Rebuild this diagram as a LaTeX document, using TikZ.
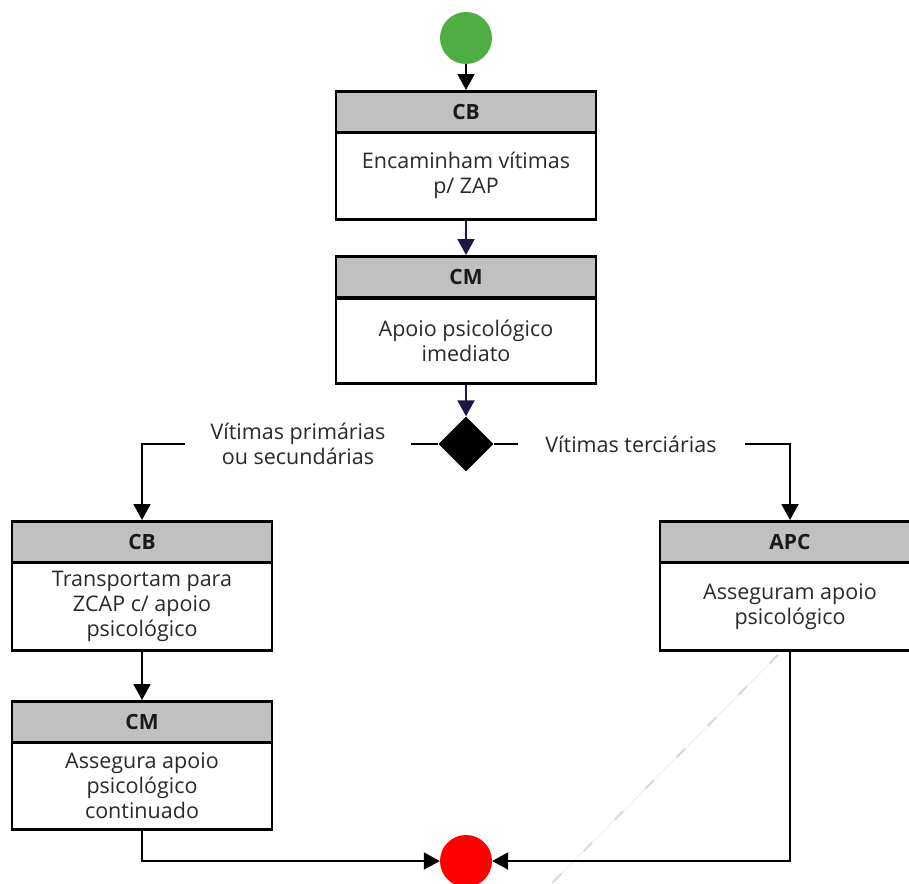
\documentclass[tikz,border=0pt]{standalone}
\usepackage{fontspec}
\setmainfont{Open Sans}
\usetikzlibrary{shapes.geometric,arrows.meta}
\definecolor{hdrgray}{HTML}{C0C0C0}
\definecolor{startgreen}{HTML}{4FAE43}
\definecolor{endred}{HTML}{FF0000}
\definecolor{navy}{HTML}{1C1748}
\definecolor{txtgray}{HTML}{2A2A2A}
\tikzset{
  hdr/.style={draw=black, line width=2.5pt, fill=hdrgray, minimum width=260pt, minimum height=41pt,
    inner sep=0pt, anchor=north, font=\bfseries\fontsize{21}{25}\selectfont, text=black!90},
  bdy/.style={draw=black, line width=2.5pt, fill=white, minimum width=260pt, minimum height=87pt,
    inner sep=0pt, anchor=north, align=center, font=\fontsize{21.5}{25}\selectfont, text=txtgray},
  lbl/.style={align=center, font=\fontsize{21.5}{25}\selectfont, text=txtgray, inner sep=0pt},
  conn/.style={line width=2pt, draw=black},
  arr/.style={conn, -{Triangle[width=17pt,length=16pt]}},
  narr/.style={arr, draw=navy, -{Triangle[width=17pt,length=16pt,fill=navy]}},
  term/.style={circle, minimum size=52pt, inner sep=0pt, draw=none},
}
\begin{document}
\begin{tikzpicture}[x=1pt,y=-1pt]
\useasboundingbox (0,0) rectangle (909,883);
\fill[white] (0,0) rectangle (909,883);
% faint diagonal artifact
\draw[gray!12, line width=0.8pt] (778,655) -- (552,883);
\draw[gray!30, line width=2pt, dash pattern=on 12pt off 32pt] (778,655) -- (552,883);

\node[term, fill=startgreen] (start) at (466,38) {};
\node[hdr] (h1) at (466,90) {CB};
\node[bdy] (b1) at (466,131) {Encaminham vítimas\\p/ ZAP};
\node[hdr] (h2) at (466,255) {CM};
\node[bdy, minimum height=85pt] (b2) at (466,297) {Apoio psicológico\\imediato};
\node[diamond, fill=black, minimum size=55pt, inner sep=0pt] (dia) at (466,444) {};

\node[lbl] (ll) at (298,444) {Vítimas primárias\\ou secundárias};
\node[lbl] (lr) at (631,444) {Vítimas terciárias};
\coordinate (l1) at (411,444);
\coordinate (l2) at (185,444);
\coordinate (r1) at (518,444);
\coordinate (r2) at (745,444);

\node[hdr] (h3) at (142,520) {CB};
\node[bdy, minimum height=88pt] (b3) at (142,561) {Transportam para\\ZCAP c/ apoio\\psicológico};
\node[hdr] (h4) at (142,700) {CM};
\node[bdy] (b4) at (142,741) {Assegura apoio\\psicológico\\continuado};
\node[hdr] (h5) at (790,520) {APC};
\node[bdy, minimum height=88pt] (b5) at (790,561) {Asseguram apoio\\psicológico};

\node[term, fill=endred] (end) at (466,861) {};

\draw[arr] (start) -- (h1.north);
\draw[narr] (b1.south) -- (h2.north);
\draw[narr] (b2.south) -- (dia.north);
\draw[conn] (dia.west) -- (l1);
\draw[arr] (l2) -| (h3.north);
\draw[conn] (dia.east) -- (r1);
\draw[arr] (r2) -| (h5.north);
\draw[arr] (b3.south) -- (h4.north);
\draw[arr] (b4.south) |- (end.west);
\draw[arr] (b5.south) |- (end.east);
\end{tikzpicture}
\end{document}
